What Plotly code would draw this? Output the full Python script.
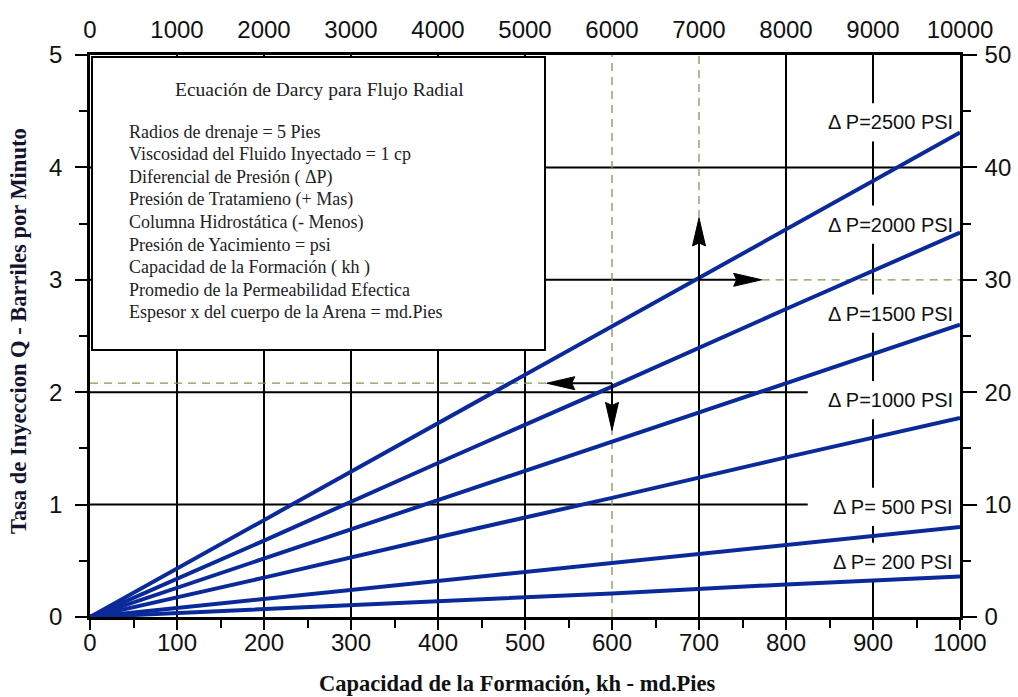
import plotly.graph_objects as go

# ---------------- data ----------------
kh = [0, 200, 400, 600, 800, 1000]
q_2500 = [0, 0.86, 1.72, 2.59, 3.45, 4.31]
q_2000 = [0, 0.68, 1.37, 2.05, 2.74, 3.42]
q_1500 = [0, 0.52, 1.04, 1.56, 2.08, 2.60]
q_1000 = [0, 0.35, 0.71, 1.06, 1.42, 1.77]
q_500 = [0, 0.16, 0.32, 0.48, 0.64, 0.80]
q_200 = [0, 0.07, 0.14, 0.21, 0.29, 0.36]
series = [q_2500, q_2000, q_1500, q_1000, q_500, q_200]
series_labels = ["\u0394 P=2500 PSI", "\u0394 P=2000 PSI", "\u0394 P=1500 PSI",
                 "\u0394 P=1000 PSI", "\u0394 P= 500 PSI", "\u0394 P= 200 PSI"]
label_y = [4.40, 3.49, 2.70, 1.93, 0.98, 0.49]

x_ticks = [0, 100, 200, 300, 400, 500, 600, 700, 800, 900, 1000]
x2_ticks = [0, 1000, 2000, 3000, 4000, 5000, 6000, 7000, 8000, 9000, 10000]
y_ticks = [0, 1, 2, 3, 4, 5]
y2_ticks = [0, 10, 20, 30, 40, 50]

box_title = "Ecuación de Darcy para Flujo Radial"
box_lines = [
    "Radios de drenaje = 5 Pies",
    "Viscosidad del Fluido Inyectado = 1 cp",
    "Diferencial de Presión ( \u0394P)",
    "Presión de Tratamieno (+ Mas)",
    "Columna Hidrostática (- Menos)",
    "Presión de Yacimiento = psi",
    "Capacidad de la Formación ( kh )",
    "Promedio de la Permeabilidad Efectica",
    "Espesor x del cuerpo de la Arena = md.Pies",
]

# example readings shown with arrows
ex_kh_left, ex_q_left = 600, 2.08      # kh=600 -> Q read to the left
ex_left_tip_kh, ex_down_tip_q = 525, 1.66
ex_kh_right, ex_q_right = 700, 3.0     # kh=700 -> Q read to the right
ex_up_tip_q, ex_right_tip_kh = 3.55, 772

# ---------------- layout geometry ----------------
W, H = 1018, 697
ML, MR, MT, MB = 90, 58, 55, 80
PW, PH = W - ML - MR, H - MT - MB
KX = PW / 1000.0   # px per kh unit
KY = PH / 5.0      # px per Q unit

def px(xp):
    return (xp - ML) / PW

def py(yp):
    return (H - MB - yp) / PH

BLUE = "#0b2a9a"
GREEN = "#7c9a4e"
SANS = "Liberation Sans, Arial, sans-serif"
SERIF = "Liberation Serif, Times New Roman, serif"

fig = go.Figure()

for q, name in zip(series, series_labels):
    fig.add_trace(go.Scatter(x=kh, y=q, mode="lines", name=name,
                             line=dict(color=BLUE, width=4), showlegend=False,
                             hoverinfo="skip"))

# helper trace for the secondary axes
fig.add_trace(go.Scatter(x=[None], y=[None], xaxis="x2", yaxis="y2",
                         showlegend=False, hoverinfo="skip"))

shapes = []

def seg(x0, y0, x1, y1, color="black", width=2, dash=None, layer="below"):
    d = dict(type="line", xref="x", yref="y", x0=x0, y0=y0, x1=x1, y1=y1,
             line=dict(color=color, width=width), layer=layer)
    if dash:
        d["line"]["dash"] = dash
    shapes.append(d)

def arrow(x0, y0, x1, y1, L=28, hw=6.5, notch=3):
    # direction in pixel space (up positive)
    dxp = (x1 - x0) * KX
    dyp = (y1 - y0) * KY
    n = (dxp ** 2 + dyp ** 2) ** 0.5
    ux, uy = dxp / n, dyp / n
    vx, vy = -uy, ux
    def pt(ox, oy):
        return x1 + ox / KX, y1 + oy / KY
    bx, by = -L * ux, -L * uy
    p_left = pt(bx + hw * vx, by + hw * vy)
    p_right = pt(bx - hw * vx, by - hw * vy)
    p_notch = pt(-(L - notch) * ux, -(L - notch) * uy)
    seg(x0, y0, p_notch[0], p_notch[1], "black", 2, layer="above")
    path = "M {:.4f},{:.4f} L {:.4f},{:.4f} L {:.4f},{:.4f} L {:.4f},{:.4f} Z".format(
        x1, y1, p_left[0], p_left[1], p_notch[0], p_notch[1], p_right[0], p_right[1])
    shapes.append(dict(type="path", xref="x", yref="y", path=path,
                       fillcolor="black", line=dict(color="black", width=1), layer="above"))

ymax = y_ticks[-1]
xmax = x_ticks[-1]
# vertical grid lines
for xv in x_ticks[1:-1]:
    if xv == ex_kh_left:
        continue
    if xv == ex_kh_right:
        seg(xv, 0, xv, ex_q_right)
        continue
    if xv == 900:
        gap = 0.17
        start = 0
        for ly in sorted(label_y):
            seg(xv, start, xv, ly - gap)
            start = ly + gap
        seg(xv, start, xv, ymax)
        continue
    seg(xv, 0, xv, ymax)

# horizontal grid lines
for yv in y_ticks[1:-1]:
    if yv in (1, 2):
        seg(0, yv, 825, yv)
    elif yv == 3:
        seg(0, yv, ex_kh_right, yv)
    else:
        seg(0, yv, xmax, yv)

# green dashed guide lines
DASH = "8px,6px"
seg(ex_kh_left, 0, ex_kh_left, ymax, GREEN, 1.3, DASH)
seg(ex_kh_right, ex_up_tip_q, ex_kh_right, ymax, GREEN, 1.3, DASH)
seg(0, ex_q_left, ex_left_tip_kh, ex_q_left, GREEN, 1.3, DASH)
seg(ex_right_tip_kh, ex_q_right, xmax, ex_q_right, GREEN, 1.3, DASH)

# arrows
arrow(ex_kh_right, ex_q_right, ex_kh_right, ex_up_tip_q)
arrow(ex_kh_right, ex_q_right, ex_right_tip_kh, ex_q_right)
arrow(ex_kh_left, ex_q_left, ex_left_tip_kh, ex_q_left)
arrow(ex_kh_left, ex_q_left, ex_kh_left, ex_down_tip_q)

# info box
shapes.append(dict(type="rect", xref="paper", yref="paper",
                   x0=px(92), x1=px(545), y0=py(350), y1=py(57),
                   line=dict(color="black", width=2), fillcolor="white",
                   layer="above"))

annotations = []

# series labels
for lab, ly in zip(series_labels, label_y):
    annotations.append(dict(x=994, y=ly, xref="x", yref="y", text=lab,
                            showarrow=False, xanchor="right", yanchor="middle",
                            font=dict(family=SANS, size=20, color="#111")))

# info box text
annotations.append(dict(x=px(319), y=py(90), xref="paper", yref="paper",
                        text=box_title, showarrow=False, xanchor="center",
                        yanchor="middle", font=dict(family=SERIF, size=19.5, color="#222")))
for i, t in enumerate(box_lines):
    annotations.append(dict(x=px(127), y=py(132 + 22.5 * i), xref="paper", yref="paper",
                            text=t, showarrow=False, xanchor="left", yanchor="middle",
                            font=dict(family=SERIF, size=18, color="#222")))

# axis titles
annotations.append(dict(x=px(517), y=py(683), xref="paper", yref="paper",
                        text="<b>Capacidad de la Formación, kh - md.Pies</b>",
                        showarrow=False, xanchor="center", yanchor="middle",
                        font=dict(family=SERIF, size=22.5, color="#111")))
annotations.append(dict(x=px(18), y=py(331), xref="paper", yref="paper",
                        text="<b>Tasa de Inyeccion Q - Barriles por Minuto</b>",
                        textangle=-90, showarrow=False, xanchor="center", yanchor="middle",
                        font=dict(family=SERIF, size=22.5, color="#141432")))

TICKFONT = dict(family=SANS, size=24, color="#111")

fig.update_layout(
    width=W, height=H,
    margin=dict(l=ML, r=MR, t=MT, b=MB, pad=0, autoexpand=False),
    paper_bgcolor="white", plot_bgcolor="white",
    shapes=shapes, annotations=annotations,
    xaxis=dict(range=[0, 1000], tickvals=x_ticks, ticktext=[str(v) for v in x_ticks],
               ticks="outside", ticklen=10, tickwidth=2, tickcolor="black",
               ticklabelstandoff=-8, automargin=False,
               minor=dict(dtick=50, ticks="outside", ticklen=8, tickwidth=2, tickcolor="black"),
               showgrid=False, zeroline=False, showline=True, linecolor="black", linewidth=2.5,
               tickfont=TICKFONT),
    xaxis2=dict(range=[0, 10000], overlaying="x", side="top", tickvals=x2_ticks,
                ticktext=[str(v) for v in x2_ticks], ticks="", showgrid=False, zeroline=False,
                ticklabelstandoff=5, automargin=False,
                showline=True, linecolor="black", linewidth=2.5, tickfont=TICKFONT),
    yaxis=dict(range=[0, 5], tickvals=y_ticks, ticktext=[str(v) for v in y_ticks],
               ticks="outside", ticklen=12, tickwidth=2, tickcolor="black",
               ticklabelstandoff=8, automargin=False,
               minor=dict(dtick=0.5, ticks="outside", ticklen=8, tickwidth=2, tickcolor="black"),
               showgrid=False, zeroline=False, showline=True, linecolor="black", linewidth=2.5,
               tickfont=TICKFONT),
    yaxis2=dict(range=[0, 50], overlaying="y", side="right", tickvals=y2_ticks,
                ticktext=[str(v) for v in y2_ticks],
                ticks="outside", ticklen=14, tickwidth=2, tickcolor="black",
                ticklabelstandoff=3, automargin=False,
                minor=dict(dtick=5, ticks="outside", ticklen=8, tickwidth=2, tickcolor="black"),
                showgrid=False, zeroline=False, showline=True, linecolor="black", linewidth=2.5,
                tickfont=TICKFONT),
)

fig.write_html("out.html")
